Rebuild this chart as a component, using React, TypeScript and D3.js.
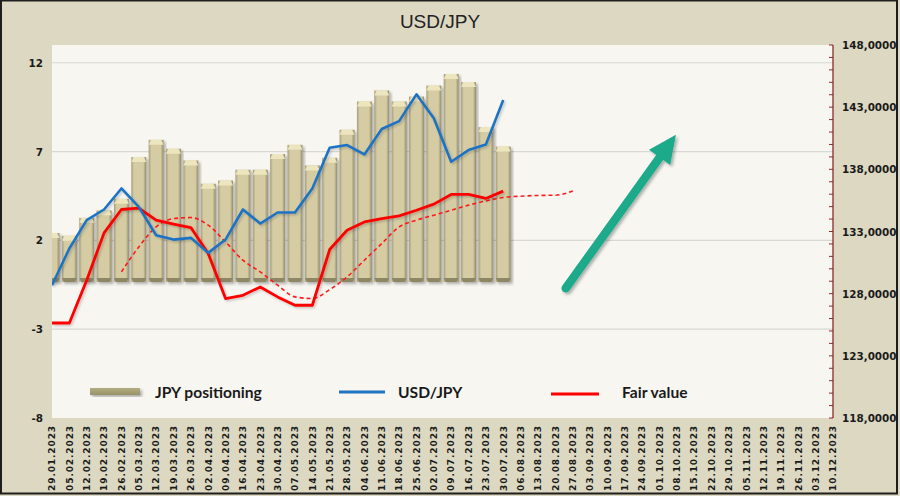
import React from "react";
import * as d3 from "d3";

const dates = [
  "29.01.2023","05.02.2023","12.02.2023","19.02.2023","26.02.2023","05.03.2023","12.03.2023","19.03.2023","26.03.2023",
  "02.04.2023","09.04.2023","16.04.2023","23.04.2023","30.04.2023","07.05.2023","14.05.2023","21.05.2023","28.05.2023",
  "04.06.2023","11.06.2023","18.06.2023","25.06.2023","02.07.2023","09.07.2023","16.07.2023","23.07.2023","30.07.2023",
  "06.08.2023","13.08.2023","20.08.2023","27.08.2023","03.09.2023","10.09.2023","17.09.2023","24.09.2023","01.10.2023",
  "08.10.2023","15.10.2023","22.10.2023","29.10.2023","05.11.2023","12.11.2023","19.11.2023","26.11.2023","03.12.2023","10.12.2023",
];

const positioning = [2.41, 2.26, 3.27, 3.69, 4.34, 6.69, 7.66, 7.16, 6.5, 5.19, 5.37, 5.98, 5.98, 6.86, 7.38, 6.22, 6.65, 8.23, 9.82, 10.44, 9.82, 10.1, 10.72, 11.37, 10.91, 8.38, 7.28];

const usdjpy = [128.68, 131.63, 133.91, 134.77, 136.46, 134.98, 132.7, 132.35, 132.49, 131.28, 132.35, 134.77, 133.64, 134.53, 134.53, 136.46, 139.73, 139.95, 139.2, 141.24, 141.88, 144.03, 142.1, 138.61, 139.55, 140.0, 143.57];

const fairValue = [125.64, 125.64, 129.08, 132.89, 134.77, 134.88, 133.91, 133.59, 133.32, 131.23, 127.61, 127.87, 128.54, 127.74, 127.07, 127.07, 131.55, 133.1, 133.77, 134.04, 134.26, 134.71, 135.2, 135.98, 135.98, 135.66, 136.25];

const fairValueTrend: (number | null)[] = [null, null, null, null, 129.75, 131.76, 133.37, 134.04, 134.12, 133.51, 132.16, 130.69, 129.75, 128.68, 127.74, 127.61, 128.33, 129.35, 130.69, 132.03, 133.37, 133.91, 134.31, 134.71, 135.12, 135.46, 135.74, 135.84, 135.9, 135.92, 136.25];

const leftTicks = [-8, -3, 2, 7, 12];
const rightTicks = [118, 123, 128, 133, 138, 143, 148];

// arrow annotation in data units: [category index, left-axis value]
const arrowTail = [29.6, -0.7];
const arrowTip = [35.95, 7.95];

const legendItems = ["JPY positioning", "USD/JPY", "Fair value"];

export default function App() {
  const W = 900, H = 496;
  const L = 52, R = 833, T = 45, B = 418;
  const x = d3.scalePoint<string>().domain(dates).range([L, R]).padding(0);
  const xi = d3.scaleLinear().domain([0, dates.length - 1]).range([L, R]);
  const yL = d3.scaleLinear().domain([-8, 13]).range([B, T]);
  const yR = d3.scaleLinear().domain([118, 148]).range([B, T]);
  const bw = x.step() * 0.86;
  const base = yL(0) + 6;

  const lineSolid = d3.line<number>().x((_, i) => x(dates[i])!).y((d) => yR(d));
  const lineTrend = d3
    .line<number | null>()
    .defined((d) => d !== null)
    .x((_, i) => x(dates[i])!)
    .y((d) => yR(d as number))
    .curve(d3.curveMonotoneX);

  const fmtR = (v: number) => d3.format(".4f")(v).replace(".", ",");

  const tx = xi(arrowTail[0]), ty = yL(arrowTail[1]);
  const hx = xi(arrowTip[0]), hy = yL(arrowTip[1]);
  const dx = hx - tx, dy = hy - ty;
  const len = Math.hypot(dx, dy);
  const ux = dx / len, uy = dy / len;
  const headL = 28, headW = 13;
  const bx = hx - ux * headL, by = hy - uy * headL;
  const px = -uy, py = ux;
  const head = `${hx},${hy} ${bx + px * headW},${by + py * headW} ${bx - px * headW},${by - py * headW}`;

  const minorTicks = d3.range(118, 149, 1);
  const legendFont = "Lato, 'Open Sans', sans-serif";

  return (
    <svg width={W} height={H} style={{ position: "absolute", left: 0, top: 0 }}>
      <defs>
        <linearGradient id="barG" x1="0" x2="1" y1="0" y2="0">
          <stop offset="0" stopColor="#a69e7a" />
          <stop offset="0.18" stopColor="#d5cca3" />
          <stop offset="0.8" stopColor="#d5cca3" />
          <stop offset="1" stopColor="#938b69" />
        </linearGradient>
        <linearGradient id="legG" x1="0" x2="0" y1="0" y2="1">
          <stop offset="0" stopColor="#b4ac80" />
          <stop offset="1" stopColor="#99916a" />
        </linearGradient>
        <filter id="sh" x="-20%" y="-20%" width="140%" height="140%">
          <feDropShadow dx="2" dy="2" stdDeviation="1.5" floodColor="#000" floodOpacity="0.3" />
        </filter>
        <filter id="shL" x="-10%" y="-10%" width="120%" height="120%">
          <feDropShadow dx="1.5" dy="1.5" stdDeviation="1" floodColor="#000" floodOpacity="0.2" />
        </filter>
        <clipPath id="plotClip">
          <rect x={L} y={T} width={R - L} height={B - T} />
        </clipPath>
      </defs>

      <rect x={0} y={0} width={W} height={H} fill="#dcd8c2" />
      <rect x={1} y={0.5} width={896} height={493} fill="none" stroke="#1e1e1e" strokeWidth={2} />

      <text x={440} y={28} textAnchor="middle" fontFamily="Liberation Sans, Arial, sans-serif" fontSize={19} fill="#222">
        USD/JPY
      </text>

      <rect x={L} y={T} width={R - L} height={B - T} fill="#f7f6f1" />

      {leftTicks.filter((t) => t > -8).map((t) => (
        <line key={t} x1={L} x2={R} y1={yL(t)} y2={yL(t)} stroke="#d9d8d2" strokeWidth={1.2} />
      ))}

      <g clipPath="url(#plotClip)">
        {positioning.map((v, i) => {
          const cx = x(dates[i])!;
          const x0 = cx - bw / 2;
          const yt = yL(v);
          return (
            <g key={i}>
              <rect x={x0} y={yt} width={bw} height={base - yt} fill="url(#barG)" filter="url(#sh)" />
              <polygon
                points={`${x0},${yt + 5} ${x0 + 2.5},${yt} ${x0 + bw - 2.5},${yt} ${x0 + bw},${yt + 5}`}
                fill="#ede5bd"
              />
              <polygon
                points={`${x0},${base - 4} ${x0 + bw},${base - 4} ${x0 + bw - 2},${base} ${x0 + 2},${base}`}
                fill="#8e8766"
              />
            </g>
          );
        })}

        <path d={lineTrend(fairValueTrend) || ""} fill="none" stroke="#ff1a1a" strokeWidth={1.6} strokeDasharray="4,3" />
        <path d={lineSolid(fairValue) || ""} fill="none" stroke="#ff0000" strokeWidth={2.8} strokeLinejoin="round" filter="url(#shL)" />
        <path d={lineSolid(usdjpy) || ""} fill="none" stroke="#1f73c3" strokeWidth={2.6} strokeLinejoin="round" filter="url(#shL)" />

        <g filter="url(#sh)">
          <line x1={tx} y1={ty} x2={bx} y2={by} stroke="#1aaa8b" strokeWidth={8.5} strokeLinecap="round" />
          <polygon points={head} fill="#1aaa8b" />
        </g>
      </g>

      {/* Right axis */}
      <line x1={R} x2={R} y1={T} y2={B} stroke="#8c2a2a" strokeWidth={1.3} />
      {minorTicks.map((t) => (
        <line key={t} x1={R - 4} x2={R} y1={yR(t)} y2={yR(t)} stroke="#8c2a2a" strokeWidth={1} />
      ))}
      {rightTicks.map((t) => (
        <text key={t} x={842} y={yR(t) + 4} fontFamily="DejaVu Sans, sans-serif" fontWeight="bold" fontSize={10.4} fill="#1a1a1a">
          {fmtR(t)}
        </text>
      ))}

      {/* Left axis */}
      {leftTicks.map((t) => (
        <text key={t} x={43} y={yL(t) + 4} textAnchor="end" fontFamily="DejaVu Sans, sans-serif" fontWeight="bold" fontSize={10.4} fill="#1a1a1a">
          {t}
        </text>
      ))}

      {/* X labels */}
      {dates.map((d) => (
        <text
          key={d}
          transform={`translate(${x(d)! + 3.3},425) rotate(-90)`}
          textAnchor="end"
          fontFamily="DejaVu Sans, sans-serif"
          fontWeight="bold"
          fontSize={9}
          letterSpacing={0.9}
          fill="#1a1a1a"
        >
          {d}
        </text>
      ))}

      {/* Legend */}
      <rect x={90} y={388} width={50} height={7} fill="url(#legG)" filter="url(#sh)" />
      <text x={155} y={398} fontFamily={legendFont} fontWeight="bold" fontSize={15.6} fill="#1a1a1a">
        {legendItems[0]}
      </text>
      <line x1={339} x2={385} y1={392} y2={392} stroke="#1f73c3" strokeWidth={2.8} />
      <text x={398} y={398} fontFamily={legendFont} fontWeight="bold" fontSize={15.6} fill="#1a1a1a">
        {legendItems[1]}
      </text>
      <line x1={551} x2={599} y1={394} y2={394} stroke="#ff0000" strokeWidth={2.8} />
      <text x={622} y={398} fontFamily={legendFont} fontWeight="bold" fontSize={15.6} fill="#1a1a1a">
        {legendItems[2]}
      </text>
    </svg>
  );
}
